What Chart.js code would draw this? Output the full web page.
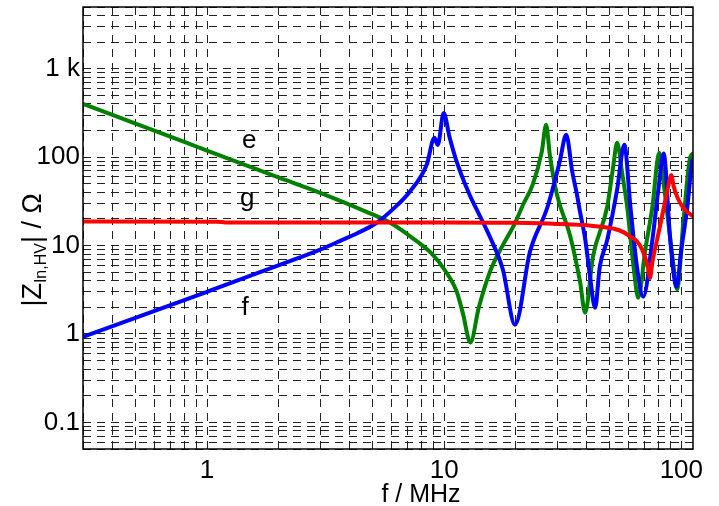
<!DOCTYPE html>
<html>
<head>
<meta charset="utf-8">
<script src="https://cdn.jsdelivr.net/npm/chart.js@4.4.0/dist/chart.umd.min.js"></script>
<style>
  html, body { margin: 0; padding: 0; background: #fff; }
</style>
</head>
<body>
<canvas id="myChart" width="719" height="506"></canvas>
<script>
// curve e (green)
const fE = [0.3, 0.5, 1, 2, 3, 4.7, 5.9, 7.4, 8.9, 10, 11.3, 12, 12.9, 14, 15.6, 17.7, 19.9, 21.5, 23.6, 25.8, 26.9, 27.9, 29.9, 33.9, 37.4, 39.3, 42.4, 48.7, 51.6, 53.6, 56.3, 59.1, 62.9, 65.8, 70.5, 75.5, 80.7, 84.2, 88.2, 92, 96, 101.9, 109, 112];
const zE = [402, 240, 119, 59, 39.5, 24.1, 18.2, 12.0, 8.0, 5.4, 3.0, 1.7, 0.8, 2.0, 5.06, 10.2, 18, 29, 48.7, 115, 233, 106, 37.6, 13.2, 3.9, 1.74, 7.5, 27.5, 78, 146, 66, 27.5, 5.75, 2.57, 9, 27.5, 112, 51, 18, 7, 3.2, 18, 100, 110];

// curve f (blue)
const fF = [0.3, 1, 2.45, 3, 3.72, 4.3, 5.18, 6.1, 7.16, 8.44, 9.1, 9.4, 9.95, 10.55, 11.3, 12.8, 14.1, 15.6, 17.7, 19.9, 23, 27.2, 30.7, 32.7, 34.7, 36.3, 37.4, 39.3, 41, 43.3, 45.3, 48.7, 53.6, 57.5, 61, 65, 69.1, 75.5, 80, 84.2, 89.8, 95.4, 100, 106, 111, 112];
const zF = [0.93, 3.0, 7.3, 9.0, 11.6, 13.8, 18.0, 26, 40.6, 82, 166, 138, 316, 166, 88.7, 37.6, 22, 12.5, 5.3, 1.27, 8.5, 26.8, 88.7, 179, 68, 37.6, 24, 12, 5, 1.98, 5.75, 11.6, 42.8, 138, 27.5, 5.75, 2.64, 11.6, 42.8, 110, 11.6, 3.42, 9, 27.5, 88.7, 95];

// curve g (red)
const fG = [0.3, 1.1, 1.2, 10, 20, 30, 42.4, 52, 57, 61, 65, 68.4, 71, 72.5, 73.8, 75.5, 79, 82.5, 85.7, 88.5, 90.6, 93, 96.4, 101.9, 106, 112];
const zG = [18.7, 18.6, 18.3, 18.3, 18.1, 17.6, 16.7, 15.5, 14.2, 12.6, 11.2, 9.0, 6.8, 5.5, 4.3, 6.5, 11.6, 20, 33, 50, 63, 46, 34.8, 26.8, 24, 21.5];

// axis ranges and labelled ticks
const xRange = [0.3, 112];
const yRange = [0.05, 5000];
const xTickValues = [1, 10, 100];
const xTickLabels = ['1', '10', '100'];
const yTickValues = [0.1, 1, 10, 100, 1000];
const yTickLabels = ['0.1', '1', '10', '100', '1 k'];

// curve names placed in the plot (f, |Z|)
const curveNames = ['e', 'g', 'f'];
const curveNameX = [1.505, 1.476, 1.447];
const curveNameY = [128, 28.2, 1.65];

const FONT = '"Liberation Sans", Arial, sans-serif';

function toPoints(xs, ys) {
    return xs.map(function (x, i) { return { x: x, y: ys[i] }; });
}

// 1..9 x 10^n ticks inside a range
function decadeTicks(min, max) {
    var out = [];
    for (var e = -3; e <= 4; e++) {
        for (var m = 1; m <= 9; m++) {
            var v = parseFloat((m * Math.pow(10, e)).toPrecision(6));
            if (v >= min * 0.9999 && v <= max * 1.0001) out.push({ value: v });
        }
    }
    return out;
}

function labelFor(values, labels) {
    return function (value) {
        for (var i = 0; i < values.length; i++) {
            if (Math.abs(value - values[i]) < values[i] * 1e-6) return labels[i];
        }
        return '';
    };
}

// box, axis titles and curve names
const decorations = {
    id: 'decorations',
    afterDraw: function (chart) {
        const ctx = chart.ctx;
        const a = chart.chartArea;
        const xs = chart.scales.x, ys = chart.scales.y;
        ctx.save();
        ctx.strokeStyle = '#000';
        ctx.lineWidth = 1.5;
        ctx.strokeRect(a.left, a.top, a.right - a.left, a.bottom - a.top);

        ctx.fillStyle = '#000';
        ctx.font = '26px ' + FONT;
        ctx.textAlign = 'center';
        ctx.textBaseline = 'alphabetic';
        for (var i = 0; i < curveNames.length; i++) {
            ctx.fillText(curveNames[i], xs.getPixelForValue(curveNameX[i]), ys.getPixelForValue(curveNameY[i]));
        }

        // x title
        ctx.font = '25px ' + FONT;
        ctx.fillText('f / MHz', (a.left + a.right) / 2 + 33, 502);

        // y title with subscript
        const big = '27px ' + FONT, small = '16px ' + FONT;
        const p1 = '|Z', p2 = 'In,HV', p3 = '| / Ω';
        ctx.font = big; const w1 = ctx.measureText(p1).width; const w3 = ctx.measureText(p3).width;
        ctx.font = small; const w2 = ctx.measureText(p2).width;
        const total = w1 + w2 + w3;
        ctx.translate(41, 250);
        ctx.rotate(-Math.PI / 2);
        ctx.textAlign = 'left';
        var x0 = -total / 2;
        ctx.font = big; ctx.fillText(p1, x0, 0);
        ctx.font = small; ctx.fillText(p2, x0 + w1, 5);
        ctx.font = big; ctx.fillText(p3, x0 + w1 + w2, 0);
        ctx.restore();
    }
};

const gridStyle = { color: '#222', lineWidth: 1, drawTicks: false };
const borderStyle = { display: false, dash: [8, 6] };

new Chart(document.getElementById('myChart'), {
    type: 'line',
    data: {
        datasets: [
            { label: 'e', data: toPoints(fE, zE), borderColor: 'rgb(0,128,0)', order: 3 },
            { label: 'f', data: toPoints(fF, zF), borderColor: 'rgb(0,0,255)', order: 2 },
            { label: 'g', data: toPoints(fG, zG), borderColor: 'rgb(255,0,0)', order: 1 }
        ]
    },
    options: {
        responsive: false,
        animation: false,
        datasets: {
            line: {
                borderWidth: 4,
                pointRadius: 0,
                fill: false,
                cubicInterpolationMode: 'monotone',
                borderJoinStyle: 'round',
                borderCapStyle: 'round'
            }
        },
        layout: { padding: { top: 7, right: 26, left: 0, bottom: 0 } },
        plugins: {
            legend: { display: false },
            tooltip: { enabled: false }
        },
        scales: {
            x: {
                type: 'logarithmic',
                min: xRange[0],
                max: xRange[1],
                grid: gridStyle,
                border: borderStyle,
                afterBuildTicks: function (scale) { scale.ticks = decadeTicks(xRange[0], xRange[1]); },
                afterFit: function (scale) {
                    scale.height = 57;
                    scale.paddingLeft = 0; scale.paddingRight = 0;
                },
                ticks: {
                    autoSkip: false, maxRotation: 0, minRotation: 0, padding: 6,
                    color: '#000', font: { family: FONT, size: 26 },
                    callback: labelFor(xTickValues, xTickLabels)
                }
            },
            y: {
                type: 'logarithmic',
                min: yRange[0],
                max: yRange[1],
                grid: gridStyle,
                border: borderStyle,
                afterBuildTicks: function (scale) { scale.ticks = decadeTicks(yRange[0], yRange[1]); },
                afterFit: function (scale) {
                    scale.width = 83;
                    scale.paddingTop = 0; scale.paddingBottom = 0;
                },
                ticks: {
                    autoSkip: false, padding: 3,
                    color: '#000', font: { family: FONT, size: 26 },
                    callback: labelFor(yTickValues, yTickLabels)
                }
            }
        }
    },
    plugins: [decorations]
});
</script>
</body>
</html>
